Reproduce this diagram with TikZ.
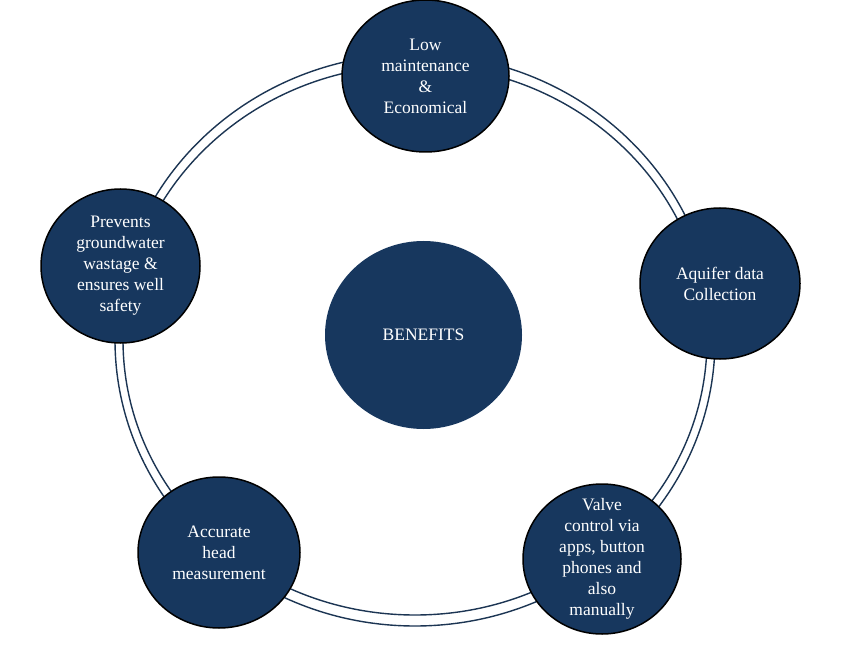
\documentclass[tikz,border=0pt]{standalone}
\usepackage{fontspec}
\setmainfont{Liberation Serif}
\usetikzlibrary{shapes.geometric}
\definecolor{navy}{HTML}{17375E}
\definecolor{ringcol}{HTML}{1C3553}
\tikzset{
  sat/.style={ellipse, draw=black, line width=1.5pt, fill=navy, inner sep=0pt},
  hub/.style={ellipse, fill=navy, inner sep=0pt},
  txt/.style={text=white, align=center, inner sep=0pt, font=\fontsize{17.5}{21}\selectfont},
  ringline/.style={draw=ringcol, line width=1.4pt}
}
\begin{document}
\begin{tikzpicture}[x=1pt,y=-1pt]
\useasboundingbox (0,0) rectangle (856,652);
\fill[white] (0,0) rectangle (856,652);
% ring
\draw[ringline] (415,340) ellipse [x radius=300, y radius=286];
\draw[ringline] (415,340) ellipse [x radius=292, y radius=275];
% hub
\node[hub, minimum width=197pt, minimum height=188pt] (hub) at (423.5,335) {};
\node[txt] (hubt) at (hub.center) {BENEFITS};
% satellites
\node[sat, minimum width=167pt, minimum height=152pt] (top) at (425.5,76) {};
\node[txt] (topt) at (top.center) {Low\\maintenance\\\&\\Economical};
\node[sat, minimum width=160pt, minimum height=151pt] (right) at (720,283.5) {};
\node[txt] (rightt) at (right.center) {Aquifer data\\Collection};
\node[sat, minimum width=158pt, minimum height=150pt] (br) at (602,559) {};
\node[txt] (brt) at (br.center) {Valve\\control via\\apps, button\\phones and\\also\\manually};
\node[sat, minimum width=162pt, minimum height=151pt] (bl) at (219,552.5) {};
\node[txt] (blt) at (bl.center) {Accurate\\head\\measurement};
\node[sat, minimum width=159pt, minimum height=154pt] (left) at (120.5,266) {};
\node[txt] (leftt) at (left.center) {Prevents\\groundwater\\wastage \&\\ensures well\\safety};
\end{tikzpicture}
\end{document}
